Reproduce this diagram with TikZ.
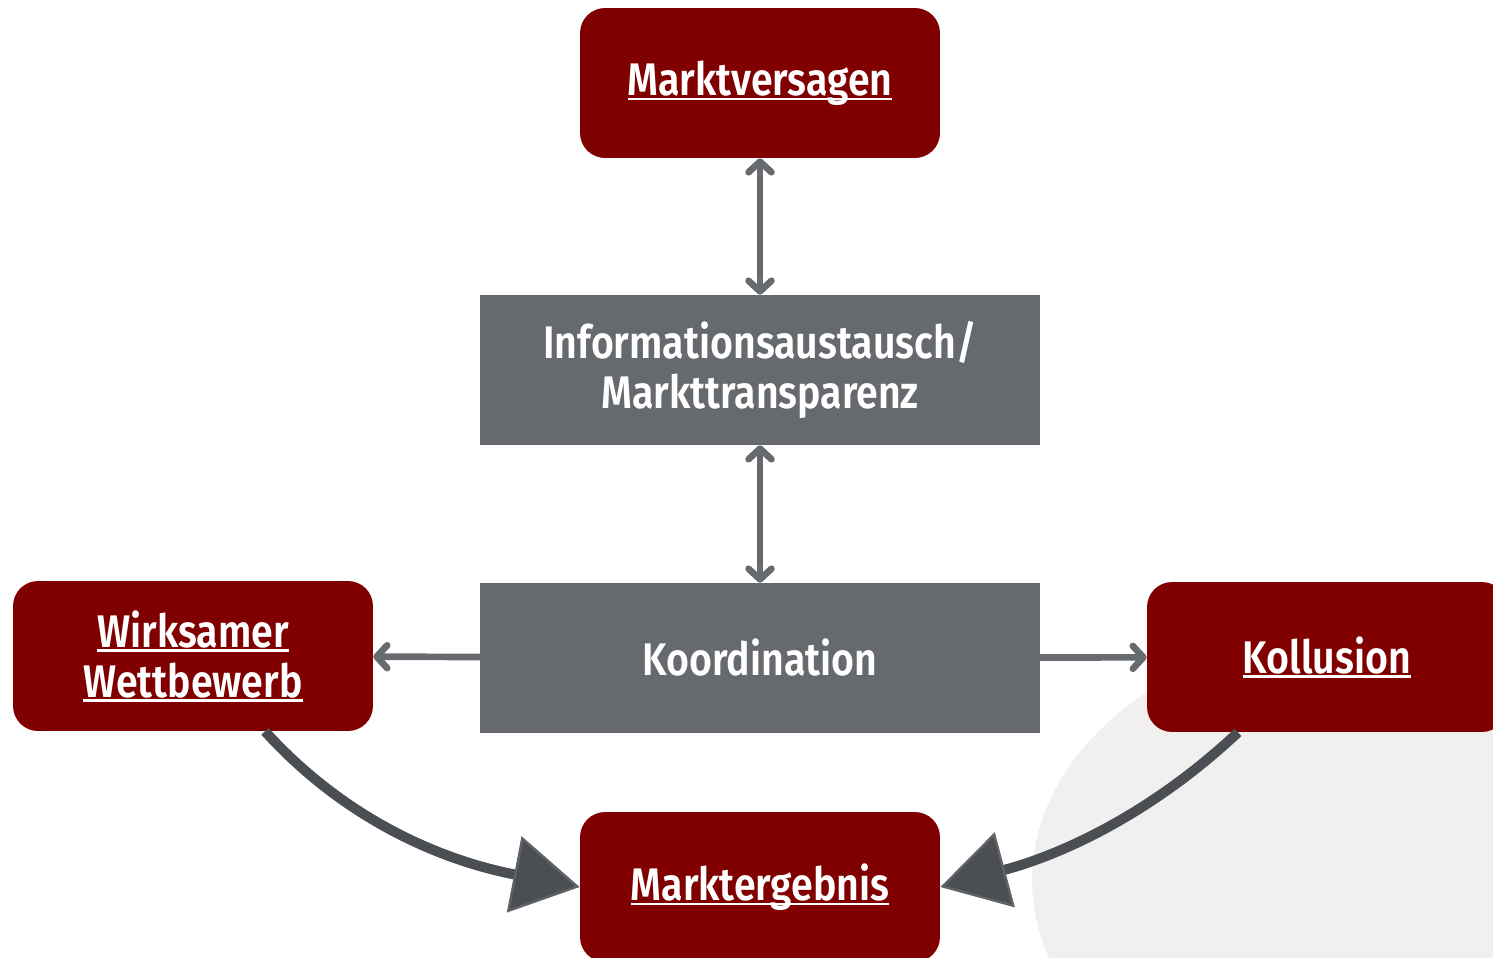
\documentclass[tikz,border=0pt]{standalone}
\usepackage{fontspec}
\setmainfont{Fira Sans}[FakeStretch=0.86,BoldFont={Fira Sans SemiBold}]
\newsavebox\ulbox
\newcommand\unterstr[1]{\sbox\ulbox{#1}\rlap{\rule[-2.6pt]{\wd\ulbox}{1.3pt}}\usebox\ulbox}
\usetikzlibrary{arrows.meta,calc}
\definecolor{dunkelrot}{HTML}{800000}
\definecolor{boxgrau}{HTML}{666A6E}
\definecolor{pfeilgrau}{HTML}{676B6F}
\definecolor{dunkelgrau}{HTML}{4B4F54}
\definecolor{kantengrau}{HTML}{5F6368}
\definecolor{hgrau}{HTML}{F1F0EF}
\begin{document}
\begin{tikzpicture}[x=0.02cm,y=-0.02cm,line join=round,
  every node/.style={font=\bfseries\fontsize{26}{28.5}\selectfont,text=white,align=center,inner sep=0pt},
  rotbox/.style={fill=dunkelrot,rounded corners=0.5cm,minimum width=7.2cm,minimum height=3cm},
  graubox/.style={fill=boxgrau,minimum width=11.2cm,minimum height=3cm},
  duennpfeil/.style={draw=pfeilgrau,line width=3.8pt,line cap=round},
  dickpfeil/.style={draw=dunkelgrau,line width=5.7pt,-{Triangle[length=38pt,width=44pt,fill=dunkelgrau,color=kantengrau,line width=1.4pt]}}]
\useasboundingbox (0,0) rectangle (1493,957);
\fill[hgrau] (1400,880) ellipse [x radius=368, y radius=259];
% Kaesten
\node[rotbox] (mv) at (760,83) {\unterstr{Marktversagen}};
\node[graubox] (info) at (760,370) {Informationsaustausch/\\Markttransparenz};
\node[graubox] (koord) at (760,658) {Koordination};
\node[rotbox] (wett) at (193,656) {\unterstr{Wirksamer}\\\unterstr{Wettbewerb}};
\node[rotbox] (koll) at (1327,657) {\unterstr{Kollusion}};
\node[rotbox] (erg) at (760,887) {\unterstr{Marktergebnis}};
% Pfeile
\tikzset{spitze/.tip={Straight Barb[length=6pt,width=13pt,line cap=round,line join=round]}}
\draw[duennpfeil,spitze-spitze] (mv) -- (info);
\draw[duennpfeil,spitze-spitze] (info) -- (koord);
\draw[duennpfeil,-spitze] (koord) -- (wett);
\draw[duennpfeil,-spitze] (koord) -- (koll);
\draw[dickpfeil] ($(wett.south)+(72,0)$) .. controls (350,825) and (450,862) .. (erg.west);
\draw[dickpfeil] ($(koll.south)+(-89,0)$) .. controls (1150,815) and (1060,855) .. (erg.east);
\end{tikzpicture}
\end{document}
